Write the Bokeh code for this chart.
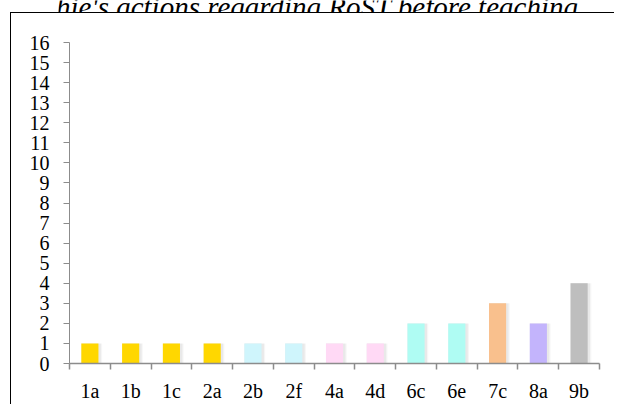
from bokeh.plotting import figure
from bokeh.layouts import column
from bokeh.models import (ColumnDataSource, Range1d, LinearAxis, FixedTicker,
                          CategoricalAxis, Label)
from bokeh.transform import dodge
from bokeh.embed import file_html
from bokeh.resources import INLINE

title_text = "Sophie's actions regarding RoST before teaching"
categories = ["1a", "1b", "1c", "2a", "2b", "2f", "4a", "4d", "6c", "6e", "7c", "8a", "9b"]
counts = [1, 1, 1, 1, 1, 1, 1, 1, 2, 2, 3, 2, 4]
bar_colors = ["#FFD700", "#FFD700", "#FFD700", "#FFD700",
              "#CFF5FC", "#CFF5FC", "#FFD9F5", "#FFD9F5",
              "#AFFCF3", "#AFFCF3", "#F9C08D", "#C3B4FC", "#BEBEBE"]
y_ticks = list(range(0, 17))

FONT = "Liberation Serif"
AXIS_COLOR = "#8C8C8C"

# --- title strip (cropped at the top, as in the reference) ---
tf = figure(width=614, height=12, output_backend="svg", toolbar_location=None,
            x_axis_location=None, y_axis_location=None, min_border=0,
            x_range=Range1d(0, 1), y_range=Range1d(0, 1))
tf.outline_line_color = None
tf.xgrid.visible = False
tf.ygrid.visible = False
tf.add_layout(Label(x=12, y=6, x_units="canvas", y_units="canvas", text=title_text,
                    text_font=FONT, text_font_style="italic", text_font_size="29px",
                    text_color="black", text_baseline="alphabetic"))

# --- chart ---
src = ColumnDataSource(dict(x=categories, top=counts, color=bar_colors))

p = figure(width=604, height=392, x_range=categories, y_range=Range1d(0, 16),
           output_backend="svg", toolbar_location=None, x_axis_location=None,
           min_border_left=58, min_border_right=16, min_border_top=29,
           min_border_bottom=42)
p.margin = (0, 0, 0, 10)
p.styles = {"border-top": "1.3px solid black", "border-left": "1.3px solid black"}
p.x_range.range_padding = 0
p.x_range.factor_padding = 0
p.outline_line_color = None
p.xgrid.visible = False
p.ygrid.visible = False
p.background_fill_color = "white"
p.border_fill_color = "white"

# soft shadows, then bars
for off, a in [(0.09, 0.035), (0.06, 0.05)]:
    p.vbar(x=dodge("x", off / 2, range=p.x_range), top="top", width=0.42 + off,
           source=src, fill_color="#000000", fill_alpha=a, line_color=None)
p.vbar(x="x", top="top", width=0.42, source=src, fill_color="color", line_color=None)

# y axis
ya = p.yaxis[0]
ya.ticker = FixedTicker(ticks=y_ticks)
ya.axis_line_color = AXIS_COLOR
ya.major_tick_line_color = AXIS_COLOR
ya.major_tick_in = 0
ya.major_tick_out = 6
ya.minor_tick_line_color = None
ya.major_label_text_font = FONT
ya.major_label_text_font_size = "20px"
ya.major_label_text_color = "black"
ya.major_label_standoff = 14

# x tick axis at category boundaries (synthetic factor coordinates)
ta = LinearAxis(ticker=FixedTicker(ticks=list(range(len(categories) + 1))))
ta.axis_line_color = AXIS_COLOR
ta.axis_line_width = 1.5
ta.major_tick_line_color = AXIS_COLOR
ta.major_tick_line_width = 1.5
ta.major_tick_in = 0
ta.major_tick_out = 6
ta.minor_tick_line_color = None
ta.major_label_text_font_size = "1px"
ta.major_label_text_color = None
ta.major_label_standoff = 0
p.add_layout(ta, "below")

# category label axis
ca = CategoricalAxis()
ca.axis_line_color = None
ca.major_tick_line_color = None
ca.major_label_text_font = FONT
ca.major_label_text_font_size = "20px"
ca.major_label_text_color = "black"
ca.major_label_standoff = 4
p.add_layout(ca, "below")

layout = column(tf, p, spacing=0)
open("out.html", "w").write(file_html(layout, INLINE))
